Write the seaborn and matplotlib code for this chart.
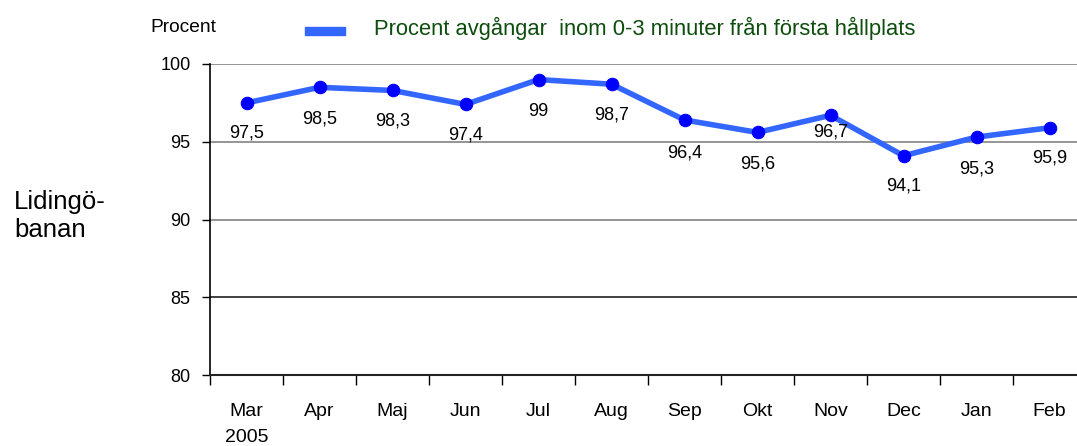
import numpy as np
import pandas as pd
import matplotlib
matplotlib.use("Agg")
import matplotlib.pyplot as plt
from matplotlib.patches import Rectangle
import seaborn as sns

# --- data ---
months = ["Mar\n2005", "Apr", "Maj", "Jun", "Jul", "Aug", "Sep", "Okt", "Nov", "Dec", "Jan", "Feb"]
values = [97.5, 98.5, 98.3, 97.4, 99.0, 98.7, 96.4, 95.6, 96.7, 94.1, 95.3, 95.9]
value_labels = ["97,5", "98,5", "98,3", "97,4", "99", "98,7", "96,4", "95,6", "96,7", "94,1", "95,3", "95,9"]
y_ticks = [80, 85, 90, 95, 100]

series_name = "Procent avgångar  inom 0-3 minuter från första hållplats"

# label offset below each point (points), a few sit closer/further in the original
label_offsets = [-22, -23, -22, -22, -23, -22, -24, -23, -12, -22, -23, -22]
# the 85 line is drawn darker than the others in the original
grid_colors = {85: "#333333", 90: "#8c8c8c", 95: "#8c8c8c", 100: "#8c8c8c"}

sns.set_style("white")
plt.rcParams['font.family'] = ['Liberation Sans', 'DejaVu Sans']
plt.rcParams['text.color'] = 'black'
plt.rcParams['xtick.color'] = 'black'
plt.rcParams['ytick.color'] = 'black'

df = pd.DataFrame({"month": months, "value": values})

fig = plt.figure(figsize=(10.77, 4.46), dpi=100)
ax = fig.add_axes([210 / 1077, 1 - 375 / 446, 876 / 1077, (375 - 64) / 446])

for y, c in grid_colors.items():
    ax.axhline(y, color=c, lw=1.3, zorder=0)

sns.lineplot(data=df, x="month", y="value", sort=False, ax=ax,
             color="#3366ff", linewidth=4, marker="o", markersize=9,
             markerfacecolor="#0000ff", markeredgecolor="#0000ff")

for i, (v, lab) in enumerate(zip(values, value_labels)):
    ax.annotate(lab, (i, v), xytext=(0, label_offsets[i]), textcoords="offset points",
                ha="center", va="center", fontsize=13, color="black")

ax.set_xlim(-0.5, 11.5)
ax.set_ylim(80, 100)
ax.set_yticks(y_ticks)
ax.tick_params(axis="y", which="major", direction="out", length=6, width=1, color="black",
               left=True, pad=8, labelsize=13)
ax.set_xticks(range(len(months)))
ax.set_xticklabels(months, fontsize=14, linespacing=1.7)
ax.set_xticks(np.arange(-0.5, 12, 1), minor=True)
ax.tick_params(axis="x", which="major", length=0, pad=20)
ax.tick_params(axis="x", which="minor", direction="out", length=7, width=1, color="black", bottom=True)
ax.set_xlabel("")
ax.set_ylabel("")

for side in ["top", "right"]:
    ax.spines[side].set_visible(False)
ax.spines["left"].set_color("black")
ax.spines["bottom"].set_color("#222222")
ax.spines["left"].set_linewidth(1.2)
ax.spines["bottom"].set_linewidth(1.5)

# header texts and legend swatch
fig.text(150 / 1077, 1 - 28 / 446, "Procent", fontsize=13.8, va="center", ha="left")
fig.patches.append(Rectangle((305 / 1077, 1 - 35 / 446), 40 / 1077, 8 / 446,
                             transform=fig.transFigure, color="#3366ff", figure=fig))
fig.text(374 / 1077, 1 - 28 / 446, series_name, fontsize=15.8, color="#0d4d0d",
         va="center", ha="left")
fig.text(14 / 1077, 1 - 216 / 446, "Lidingö-\nbanan", fontsize=18.5, va="center", ha="left",
         linespacing=1.2)

fig.savefig("out.png", dpi=100)
